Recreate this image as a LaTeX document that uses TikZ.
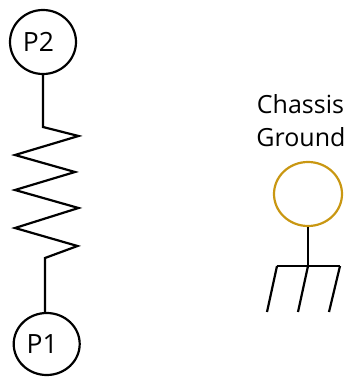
\documentclass[tikz,border=0pt]{standalone}
\usepackage{fontspec}
\setmainfont{Open Sans}
\usetikzlibrary{shapes.geometric}
\definecolor{gold}{RGB}{201,151,18}
\tikzset{
  term/.style={draw=black,ellipse,line width=2.2pt,inner sep=0pt,font=\fontsize{26.5}{26.5}\selectfont},
  wire/.style={draw=black,line width=2.2pt,line join=miter,line cap=butt},
  lbl/.style={font=\fontsize{25}{25}\selectfont,inner sep=0pt,text=black}
}
\begin{document}
\begin{tikzpicture}[x=1pt,y=-1pt]
\useasboundingbox (0,0) rectangle (346,377);
\node[term,minimum width=66pt,minimum height=64pt] (p2) at (43,42) {\hspace*{-9pt}P2};
\node[term,minimum width=66pt,minimum height=62pt] (p1) at (46.7,344) {\hspace*{-9pt}P1};
\node[term,draw=gold,minimum width=68pt,minimum height=64pt] (gnd) at (308,194) {};
\node[lbl] (chassis) at (300.5,104) {Chassis};
\node[lbl] (ground) at (301,137) {Ground};
\coordinate (rtop) at (43,127);
\coordinate (rbot) at (45,258);
\draw[wire] (p2.south) -- (rtop) -- (78.5,136) -- (15,155) -- (75,172) -- (15,190) -- (78.5,208) -- (15,228) -- (77.5,246) -- (rbot) -- (rbot |- p1.north);
\coordinate (bl) at (277,266);
\coordinate (bm) at (308,266);
\coordinate (br) at (340,266);
\coordinate (fl) at (267,312);
\coordinate (fm) at (298,312);
\coordinate (fr) at (329,312);
\draw[wire] (gnd.south) -- (bm);
\draw[wire] (bl) -- (br);
\draw[wire] (bl) -- (fl);
\draw[wire] (bm) -- (fm);
\draw[wire] (br) -- (fr);
\end{tikzpicture}
\end{document}
